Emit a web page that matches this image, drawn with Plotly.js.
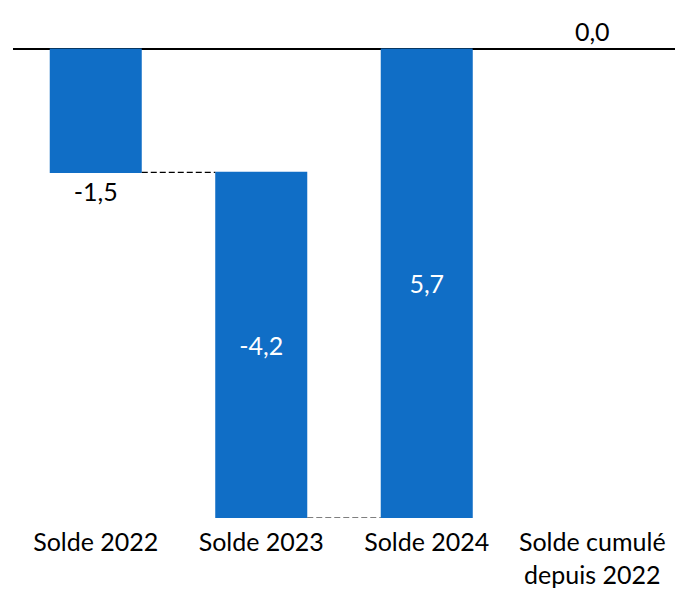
<!DOCTYPE html>
<html><head><meta charset="utf-8">
<script src="https://cdn.plot.ly/plotly-3.0.1.min.js"></script>
<style>body{margin:0;padding:0;background:#fff}</style>
</head><body>
<div id="chart" style="width:697px;height:609px"></div>
<script>
const categories = ['Solde 2022', 'Solde 2023', 'Solde 2024', 'Solde cumulé<br>depuis 2022'];
const values = [-1.5, -4.2, 5.7, 0];
const measures = ['relative', 'relative', 'relative', 'total'];
const labels = ['-1,5', '-4,2', '5,7', '0,0'];

const blue = '#106EC6';
const fam = 'Lato, sans-serif';
const trace = {
  type: 'waterfall',
  x: categories,
  y: values,
  measure: measures,
  text: labels,
  textinfo: 'text',
  textposition: ['outside', 'inside', 'inside', 'outside'],
  insidetextanchor: 'middle',
  insidetextfont: {color: '#ffffff', size: 25, family: fam},
  outsidetextfont: {color: '#000000', size: 25, family: fam},
  increasing: {marker: {color: blue}},
  decreasing: {marker: {color: blue}},
  totals: {marker: {color: blue}},
  connector: {mode: 'between', line: {color: '#000000', width: 1.2, dash: '6px,3px'}},
  cliponaxis: false,
  hoverinfo: 'skip'
};
const layout = {
  width: 697, height: 609,
  margin: {l: 13, r: 22, t: 21, b: 91},
  paper_bgcolor: '#fff', plot_bgcolor: '#fff',
  showlegend: false,
  waterfallgap: 0.444,
  font: {family: fam, size: 25, color: '#000'},
  xaxis: {showgrid: false, showline: false, ticks: '', ticklabelstandoff: 7, tickfont: {size: 25, color: '#000', family: fam}, fixedrange: true},
  yaxis: {range: [-5.7, 0.34], showgrid: false, showticklabels: false, zeroline: true, zerolinecolor: '#000', zerolinewidth: 2, fixedrange: true}
};
Plotly.newPlot('chart', [trace], layout, {displayModeBar: false, staticPlot: true});
</script>
</body></html>
